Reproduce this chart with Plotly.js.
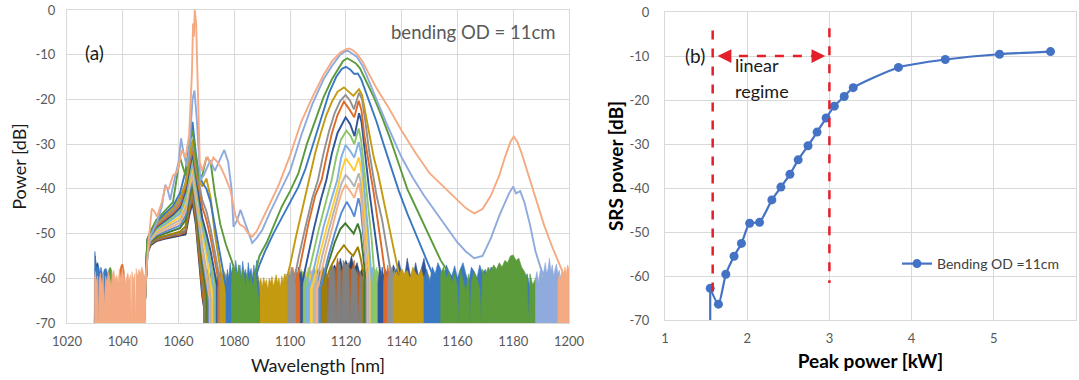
<!DOCTYPE html>
<html>
<head>
<meta charset="utf-8">
<script src="https://cdn.plot.ly/plotly-3.0.1.min.js"></script>
<style>html,body{margin:0;padding:0;background:#fff;}#chart{width:1079px;height:380px;}</style>
</head>
<body>
<div id="chart"></div>
<script>
// ---------------- (a) spectra ----------------
const WL_TICKS = [1020, 1040, 1060, 1080, 1100, 1120, 1140, 1160, 1180, 1200];
const WL_TICK_TEXT = ['1020', '1040', '1060', '1080', '1100', '1120', '1140', '1160', '1180', '1200'];
const DB_TICKS = [0, -10, -20, -30, -40, -50, -60, -70];
const DB_TICK_TEXT = ['0', '-10', '-20', '-30', '-40', '-50', '-60', '-70'];

// shared wavelength points of the pump / pedestal part
const PED_X = [1047.6, 1048.8, 1050, 1052, 1055, 1058, 1060.5, 1062.5, 1063.8, 1065, 1066.2, 1067.3, 1068.5, 1070, 1071.5, 1073, 1075, 1077, 1079, 1081];

const PED_S1 = [-70,-54.5,-52.6,-51.7,-51.2,-50.8,-50.6,-50.2,-46,-43,-48,-55,-64,-70,null,null,null,null,null,null];
const PED_S2 = [-70,-54.2,-52.4,-51.5,-51,-50.5,-50.3,-49.6,-45,-42,-47,-54,-63,-70,null,null,null,null,null,null];
const PED_S3 = [-70,-54,-52.2,-51.3,-50.8,-50.3,-50,-49.2,-44,-41,-46,-53,-61,-70,null,null,null,null,null,null];
const PED_S4 = [-70,-53.8,-52,-51,-50.5,-50,-49.6,-48.4,-43,-40,-45,-52,-59,-66,-70,null,null,null,null,null];
const PED_S5 = [-70,-53.5,-51.8,-50.7,-50,-49.4,-48.8,-47,-42,-39,-44,-50,-57,-63,-70,null,null,null,null,null];
const PED_S6 = [-70,-53.3,-51.6,-50.4,-49.6,-48.8,-48.2,-46,-41,-38,-43,-48.5,-55,-61,-68,-70,null,null,null,null];
const PED_S7 = [-70,-53.2,-51.4,-50.1,-49.2,-48.3,-47.6,-45,-40,-37,-42,-47.5,-54,-60,-66,-70,null,null,null,null];
const PED_S8 = [-70,-53,-51.2,-49.8,-48.8,-47.8,-47,-44.2,-39,-36,-41,-46.5,-52.5,-58,-64,-70,null,null,null,null];
const PED_S9 = [-70,-52.8,-51,-49.5,-48.4,-47.3,-46.3,-43.2,-39,-35,-40,-45,-50,-55,-61,-68,-70,null,null,null];
const PED_S10 = [-70,-52.6,-50.8,-49.2,-48,-46.8,-45.6,-42.3,-38,-34,-39,-44,-48.5,-53,-58,-64,-70,null,null,null];
const PED_S11 = [-70,-52.4,-50.6,-48.9,-47.6,-46.3,-44.9,-41.5,-37,-33,-38,-43,-47.5,-51.5,-56,-61,-68,-70,null,null];
const PED_S12 = [-70,-52.2,-50.4,-48.6,-47.2,-45.8,-44.2,-40.5,-36,-32,-37,-42,-46.5,-50,-54,-59,-66,-70,null,null];
const PED_S13 = [-70,-52,-50.2,-48.3,-46.8,-45.3,-43.5,-39.5,-35,-31,-36,-40,-44,-47,-51,-56,-63,-70,null,null];
const PED_S14 = [-70,-51.8,-50,-48,-46.4,-44.8,-42.8,-38.5,-34,-30,-35,-39,-42.5,-45,-49,-54,-61,-68,-70,null];
const PED_S15 = [-70,-51.6,-49.8,-47.7,-46,-44.3,-42,-39,-33,-29,-34,-38,-39.5,-37.7,-42,-50,-58,-65,-70,null];
const PED_S16 = [-70,-51.4,-49.6,-47.4,-45.6,-43.8,-41,-36,-31,-25,-32,-37,-38.5,-40,-43,-48,-55,-62,-70,null];
const PED_S17 = [-70,-51.2,-49.4,-47,-45,-43,-33,-37,-30,-27,-33,-38,-37,-33,-34,-41,-48,-52.5,-56,-60];

// Raman humps
const RAM_X_S4 = [1112, 1114.5, 1117, 1119.3, 1121, 1122.6, 1124.3, 1125.3, 1126.3, 1127];
const RAM_Y_S4 = [-62, -57.5, -54.5, -52.6, -54, -55, -53, -55.5, -59, -62];
const RAM_X_S5 = [1111, 1113.5, 1116, 1118, 1119.8, 1121.5, 1122.8, 1124.3, 1125.3, 1126.2, 1127.2];
const RAM_Y_S5 = [-62, -57, -52, -49, -47.7, -49, -50, -47.8, -50, -55, -61];
const RAM_X_S6 = [1111, 1113.5, 1116, 1118.3, 1120.3, 1121.8, 1123, 1124.5, 1125.3, 1126.1, 1127, 1127.8];
const RAM_Y_S6 = [-62, -55.5, -50, -45.5, -42.9, -44.5, -46.2, -42.1, -44, -49, -55, -61];
const RAM_X_S7 = [1110, 1112.5, 1115, 1117.2, 1118.7, 1119.9, 1121.5, 1123, 1124.6, 1125.3, 1126, 1126.8, 1127.8];
const RAM_Y_S7 = [-62, -55, -49, -43.5, -40.5, -39.1, -40.5, -42, -38.7, -41, -46, -53, -61];
const RAM_X_S8 = [1109, 1111.5, 1114, 1116.5, 1118.3, 1119.9, 1121.5, 1123, 1124.6, 1125.3, 1126, 1126.8, 1127.6, 1128.5];
const RAM_Y_S8 = [-62, -55, -49, -43, -39, -36.9, -38, -39.5, -36.5, -38.5, -42, -48, -54, -61];
const RAM_X_S9 = [1108, 1110.5, 1113, 1115.5, 1117.2, 1118.4, 1119.9, 1121.5, 1123, 1124.6, 1125.3, 1126, 1126.8, 1127.6, 1128.8];
const RAM_Y_S9 = [-62, -55, -49, -43.5, -39.5, -36, -33.2, -34.5, -36, -33, -35, -39, -45, -52, -61];
const RAM_X_S10 = [1107, 1109.5, 1112, 1114.5, 1116.9, 1118.3, 1119.9, 1121.5, 1123, 1124.6, 1125.4, 1126.1, 1127, 1128, 1129.3];
const RAM_Y_S10 = [-62, -55, -48.5, -43, -38, -33, -30.2, -31.5, -33, -29.5, -32, -36, -42, -50, -61];
const RAM_X_S11 = [1105.5, 1108, 1110.5, 1113, 1114.9, 1116.5, 1118.2, 1120.2, 1121.8, 1123, 1124.6, 1125.4, 1126.2, 1127, 1128, 1129.2, 1130.3];
const RAM_Y_S11 = [-62, -55, -48.5, -42.5, -38, -33, -29, -27, -28.3, -30, -26.5, -29, -33, -38, -44, -51, -60];
const RAM_X_S12 = [1104, 1106, 1108.5, 1111, 1113, 1115, 1117, 1119.9, 1121.5, 1123.1, 1124.7, 1125.6, 1126.5, 1127.4, 1128.5, 1130, 1131.5, 1132.8];
const RAM_Y_S12 = [-62, -56, -49, -42.5, -38, -32, -27.5, -24, -25.5, -28.2, -23.1, -25, -30, -35.8, -41, -48, -55, -61];
const RAM_X_S13 = [1102, 1104, 1106.5, 1109, 1111.3, 1113, 1115, 1117, 1119.3, 1121, 1123, 1124.6, 1125.6, 1126.6, 1127.6, 1128.6, 1130, 1131.5, 1133, 1134.5];
const RAM_Y_S13 = [-62, -55.5, -48, -41.5, -38, -33, -27.5, -23.5, -20.5, -22, -24, -20.3, -22.5, -28, -32.5, -35.8, -41, -47, -54, -61];
const RAM_X_S14 = [1101, 1103, 1105.5, 1108, 1110, 1112, 1114, 1116, 1118, 1119.9, 1121.5, 1122.9, 1124.7, 1125.8, 1127, 1128.2, 1129.5, 1131, 1133, 1135, 1136.5];
const RAM_Y_S14 = [-62, -55.5, -48.5, -42, -38, -32, -27, -23, -20.3, -19, -20.3, -22.2, -18.5, -20, -25, -31, -36, -41.5, -47, -54, -60];
const RAM_X_S15 = [1098, 1100, 1102, 1104.5, 1107, 1109, 1111, 1113, 1115, 1117, 1119.3, 1120.8, 1122.7, 1124.7, 1125.8, 1127, 1128.5, 1130, 1131.5, 1133, 1135, 1137, 1139];
const RAM_Y_S15 = [-62, -57, -51, -44, -37, -32, -27.5, -23.5, -20.5, -18.3, -17.3, -18.2, -19.2, -17.7, -19, -23, -28, -33, -36.5, -41, -47, -53, -59];
const RAM_X_S16 = [1087, 1089, 1091, 1094, 1097, 1100, 1103, 1105.5, 1108, 1111, 1114, 1116.5, 1118.5, 1120, 1121.5, 1123, 1124.3, 1125.5, 1127, 1129, 1131, 1133.5, 1136.4, 1139, 1142, 1145, 1148, 1151];
const RAM_Y_S16 = [-61, -57, -54, -50, -46.5, -43, -39.5, -35.5, -30.5, -24.5, -18.5, -15, -13.2, -12.7, -13.3, -14.3, -14.2, -15.5, -18, -21.5, -25, -30, -35.8, -40.5, -45.5, -50, -54.5, -59];
const RAM_X_S17 = [1087, 1089, 1091.6, 1094, 1097, 1100, 1103, 1106, 1109, 1112, 1115, 1117.5, 1119, 1120.5, 1122, 1123.5, 1125, 1127, 1130, 1133, 1136, 1139, 1142, 1145, 1148, 1151, 1154, 1156];
const RAM_Y_S17 = [-60, -55, -52, -48.5, -44, -40.5, -36.5, -30, -24.5, -19.5, -15.5, -12.8, -11.4, -10.8, -11.3, -11.9, -13, -15.5, -19.5, -24, -29, -34.5, -40, -44, -48, -52, -56, -58];

// two highest spectra, full traces
const WL_S18 = [1047.6, 1048.4, 1049.8, 1051, 1052.5, 1054, 1055.2, 1056, 1057, 1058.5, 1060, 1060.9, 1061.8, 1063, 1064, 1065, 1065.7, 1066.5, 1067.3, 1067.8, 1069, 1070.5, 1071.4, 1073, 1074.5, 1076.4, 1077.8, 1079, 1079.7, 1081, 1082.2, 1083.5, 1085, 1086.4, 1088, 1090, 1093, 1096, 1100, 1104, 1108, 1112, 1115, 1118, 1120, 1121, 1122.5, 1124, 1126, 1128, 1131, 1135, 1140, 1144, 1148, 1152, 1156, 1160, 1163, 1166, 1169, 1172, 1175, 1177, 1178.5, 1180, 1181, 1182.5, 1184, 1186, 1188, 1190, 1192, 1194];
const P_S18 = [-70, -58, -50.7, -49, -47, -44, -39.1, -40, -42.5, -38, -34, -28.7, -32, -35, -30, -20, -18, -24, -34, -38, -37, -35, -33.6, -36, -34, -31.3, -34, -40, -48.5, -47, -44.7, -47, -50, -52.1, -51, -49.2, -45, -41, -36, -28, -21, -15.5, -12.5, -10, -9.1, -9.2, -9.8, -10.5, -12.5, -15.5, -20, -26, -33, -37.5, -41.5, -45, -48.5, -52, -54, -55.5, -55, -51, -46, -43, -41, -39.5, -41, -40.5, -43, -48, -54, -58, -61, -64];
const WL_S19 = [1047.6, 1048.3, 1049.2, 1050.4, 1051.3, 1052.3, 1054, 1055.3, 1056.5, 1058, 1059.5, 1061.2, 1062.5, 1063.8, 1064.8, 1065.2, 1065.5, 1065.8, 1066.3, 1066.9, 1067.6, 1068.5, 1069.5, 1070.4, 1071.5, 1072.5, 1073.8, 1075, 1076.5, 1078.6, 1080.4, 1082, 1083.5, 1085, 1086.4, 1088, 1090, 1093, 1096, 1100, 1104, 1108, 1112, 1115, 1118, 1120, 1121.2, 1122.5, 1124, 1126, 1128, 1131, 1135, 1140, 1145, 1150, 1155, 1160, 1163, 1166, 1169, 1172, 1175, 1177, 1179, 1180.2, 1181.5, 1183, 1185, 1188, 1191, 1194, 1196, 1198, 1200];
const P_S19 = [-70, -60, -52, -44.4, -45, -46.2, -43, -39.5, -40, -37, -36.2, -31.3, -33, -28, -14, -3, -6, 0, -3, -20, -34, -36, -34, -32.8, -34.5, -33, -33.9, -35, -37, -40.3, -46, -48, -48.5, -50, -50.7, -49.5, -47, -43, -39, -32.5, -25, -19.5, -14.5, -11.5, -9.5, -8.8, -8.6, -9, -9.8, -11.5, -14, -17.5, -21.5, -27, -32, -36.5, -39.5, -42.5, -44.3, -45.5, -44.5, -41.5, -37, -33, -29.5, -28.3, -29.5, -32, -36, -42, -48, -53, -56, -59, -61];

// noise-floor segments (top edge of the dense noise), null separates segments
const NZX_S1 = [1029.8,1030.1,1030.5,1031,1031.5,1032,null,1069,1069.5,1070,1070.5,1071,null,1114,1115,1116,1117,1118,1119,1120,1121,1122,1123,1124,1125,1126,1127];
const NZY_S1 = [-70,-55,-57,-56.5,-58,-70,null,-62,-59.5,-61,-58,-62,null,-60,-58,-57,-59,-55.5,-58,-56,-57.5,-55,-58,-56.5,-59,-57.5,-61];
const NZX_S2 = [1069,1069.5,1070,1070.5,1071,1071.5,null,1112,1113,1114,1115,1115.5,1116,1117,1118,1119,1120,1120.5,1121,1122,1123,1123.5,1124,1125,1126,1127];
const NZY_S2 = [-62,-60,-58.5,-60.5,-59,-62,null,-61,-59,-60,-58.5,-70,-59.5,-55.5,-58.8,-57.5,-58.5,-70,-57.5,-58.2,-56,-70,-58,-60,-59.5,-62];
const NZX_S3 = [1069,1069.5,1070,1070.5,1071,1071.5,1072,null,1110,1111,1112,1113,1113.5,1114,1115,1116,1116.5,1117,1118,1118.5,1119,1120,1121,1121.5,1122,1123,1124,1124.5,1125,1126,1127];
const NZY_S3 = [-62,-59.5,-61,-58.5,-60.5,-59.5,-62,null,-60,-58.5,-59.5,-57.8,-70,-58.5,-57,-58,-70,-56.5,-57,-70,-56,-57,-56.5,-70,-58,-57.5,-59,-70,-58.5,-60,-62];
const NZX_S4 = [1069.5,1070,1070.5,1071,1071.5,1072,1072.5,null,1109,1109.5,1110,1110.5,1111,1111.5,1112,1112.5,1113,null,1126,1126.5,1127,1127.5,1128,1128.5];
const NZY_S4 = [-62,-60,-58.5,-60,-59,-61,-63,null,-61,-58.5,-60,-57.5,-59,-58,-57.5,-59.5,-61,null,-61,-58,-59.5,-57.5,-59,-62];
const NZX_S5 = [1070,1070.5,1071,1071.5,1072,1072.5,1073,null,1108,1108.5,1109,1109.5,1110,1110.5,1111,null,1126.5,1127,1127.5,1128,1128.5,1129];
const NZY_S5 = [-62,-59.5,-61,-58.5,-60.5,-59,-62,null,-61,-58,-59.5,-57.5,-59,-58.5,-61,null,-61,-58.5,-60,-57.8,-59.5,-62];
const NZX_S6 = [1070.5,1071,1071.5,1072,1072.5,1073,1073.5,null,1107,1107.5,1108,1108.5,1109,1109.5,1110,1110.5,1111,null,1127,1127.5,1128,1128.5,1129,1129.5];
const NZY_S6 = [-62,-59,-61,-58.2,-60,-59.5,-62,null,-61,-58.5,-60,-57.5,-59.5,-58,-60,-59,-62,null,-61,-58,-59.5,-57,-59,-62];
const NZX_S7 = [1071,1071.5,1072,1072.5,1073,1073.5,1074,null,1106,1106.5,1107,1107.5,1108,1108.5,1109,1109.5,1110,null,1127.5,1128,1128.5,1129,1129.5,1130];
const NZY_S7 = [-62,-60,-58.5,-60,-59,-61,-63,null,-61,-59,-57.5,-59.5,-58,-59.8,-60,-58.5,-62,null,-61,-58.5,-60,-58,-59.5,-62];
const NZX_S8 = [1071.5,1072,1072.5,1073,1073.5,1074,1074.5,null,1105,1105.5,1106,1106.5,1107,1107.5,1108,1108.5,1109,null,1128,1128.5,1129,1129.5,1130,1130.5];
const NZY_S8 = [-62,-59.5,-61,-58.5,-60.5,-59,-62,null,-61,-58,-59.5,-57.5,-59,-58.2,-60,-58.8,-62,null,-61,-58,-59.5,-57.5,-59,-62];
const NZX_S9 = [1072,1072.5,1073,1073.5,1074,1074.5,1075,null,1104,1104.5,1105,1105.5,1106,1106.5,1107,1107.5,1108,null,1128.5,1129,1129.5,1130,1130.5,1131];
const NZY_S9 = [-62,-60,-58.5,-60.5,-59,-61,-63,null,-61,-58.5,-60,-58,-59.5,-57.8,-60,-59,-62,null,-61,-58.5,-60,-57.8,-59.5,-62];
const NZX_S10 = [1072.5,1073,1073.5,1074,1074.5,1075,1075.5,null,1103,1103.5,1104,1104.5,1105,1105.5,1106,1106.5,1107,null,1129,1129.5,1130,1130.5,1131,1131.5,1132];
const NZY_S10 = [-62,-59,-61,-58.5,-60,-59,-62,null,-61,-59,-58,-60,-58.5,-59.5,-60,-58.5,-62,null,-60,-57.5,-59,-58,-60,-58.5,-61];
const NZX_S11 = [1073,1073.5,1074,1074.5,1075,1075.5,1076,null,1102,1102.5,1103,1103.5,1104,1104.5,1105,1105.5,null,1129.5,1130,1130.5,1131,1131.5,1132,1132.5,1133];
const NZY_S11 = [-62,-59.5,-61,-58.5,-60,-59,-62,null,-61,-59,-60.5,-58,-59.5,-58.5,-60,-62,null,-61,-58,-59.5,-57.5,-59,-58,-60,-62];
const NZX_S12 = [1073.5,1074,1074.5,1075,1075.5,1076,1076.5,null,1101,1101.5,1102,1102.5,1103,1103.5,1104,1104.5,null,1131.5,1132,1132.5,1133,1133.5,1134,1135,1136,1137,1138,1139,1140,1141,1142,1143,1144,1145,1146,1147,1148,1149,1150];
const NZY_S12 = [-62,-59,-61,-58,-60,-59.5,-62,null,-62,-59.5,-58,-60,-57.5,-59,-58.5,-61,null,-61,-58.5,-60,-57.5,-59.5,-58,-59,-60,-57,-58.5,-56,-59,-60,-55.5,-59,-60,-56.5,-59.5,-58,-55.5,-59,-62];
const NZX_S13 = [1038.5,1039,1039.5,1040,1040.5,1041,null,1074,1074.5,1075,1075.5,1076,1076.5,1077,null,1100,1100.5,1101,1101.5,1102,1102.5,1103,1103.5,null,1133.5,1134,1134.5,1135,1135.5,1136,1136.5,1137];
const NZY_S13 = [-70,-58,-57,-56.8,-58.5,-70,null,-62,-60,-58.5,-60.5,-59,-61,-63,null,-62,-59,-57.5,-59.5,-58,-60,-58.5,-61,null,-61,-58,-59.5,-57,-58.8,-57.5,-59,-62];
const NZX_S14 = [1074.5,1075,1075.5,1076,1076.5,1077,1077.5,null,1098,1098.5,1099,1099.5,1100,1100.5,1101,1101.5,1102,null,1135,1135.5,1136,1136.5,1137,1137.5,1138];
const NZY_S14 = [-62,-59.5,-61,-58.5,-60,-59,-62,null,-61,-59,-60.5,-58,-59.5,-57.5,-59,-60,-62,null,-61,-58.5,-60,-57.5,-59,-58,-61];
const NZX_S15 = [1075,1075.5,1076,1076.5,1077,1077.5,1078,1078.5,1079,null,1087,1087.5,1088,1088.5,1089,1089.5,1090,1090.5,1091,1091.5,1092,1092.5,1093,1093.5,1094,1094.5,1095,1095.5,1096,1096.5,1097,1097.5,1098,1098.5,1099,null,1137,1138,1139,1140,1141,1142,1143,1144,1145,1146,1147,1148,1149,1150,1151,1152];
const NZY_S15 = [-62,-59,-61,-58.5,-60,-59,-61.5,-59.5,-62,null,-62,-60,-61.5,-59.5,-61,-60,-62,-59.8,-61.2,-60.3,-62.5,-60,-61,-59.6,-61.8,-60.5,-59.2,-61,-60,-62,-59.5,-60.8,-59,-60.5,-62,null,-60,-58.5,-59.5,-57.8,-59,-58.2,-60,-57.5,-58.8,-59.5,-58,-60.2,-58.5,-59.8,-61,-63];
const NZX_S16 = [1029.8,1030,1030.3,1030.7,1031.2,1031.7,1032.2,1032.8,1033.4,1034,1034.6,1035.2,1035.8,1036.3,null,1077,1077.5,1078,1078.5,1079,1079.5,1080,1080.5,1081,1081.5,1082,1082.5,1083,1083.5,1084,1084.5,1085,1085.5,1086,1086.5,1087,1087.5,1088,1088.5,1089,null,1148,1149,1150,1151,1152,1153,1154,1155,1156,1157,1158,1159,1160,1161,1162,1163,1164,1165,1166,1167,1168,1169,1170,1171,1172,1173,1174,1175,1176,1177,1178,1179,1180,1181,1182,1183,1184,1185,1186];
const NZY_S16 = [-70,-54,-56.5,-58,-57,-59,-57.5,-59.5,-58,-57.8,-59,-58.2,-59.6,-70,null,-62,-58,-60,-56.5,-59,-57.5,-60,-56,-58.5,-59.5,-57,-60,-56.2,-59,-58,-60.5,-56.5,-59,-57.8,-60,-57,-59.5,-56,-60,-63,null,-60,-58,-61,-57.5,-59,-56.5,-58,-60,-57,-58.5,-59.5,-57.2,-60,-58,-56.5,-59,-61,-57.5,-58.5,-60,-57,-59,-58,-60.5,-57.5,-58,-59,-57.5,-58.5,-57,-58,-59.5,-58,-60,-57.5,-59,-60.5,-59,-62];
const NZX_S17 = [1034.5,1035,1035.5,1036,1036.5,null,1079,1079.5,1080,1080.5,1081,1081.5,1082,1082.5,1083,1083.5,1084,1084.5,1085,1085.5,1086,1086.5,1087,1087.5,1088,1088.5,1089,null,1154,1155,1156,1157,1158,1159,1160,1160.5,1161,1162,1163,1164,1164.5,1165,1166,1167,1168,1168.5,1169,1170,1171,1172,1173,1174,1175,1176,1177,1178,1179,1180,1181,1182,1183,1184,1185,1185.5,1186,1187,1188,1189,1190,1191];
const NZY_S17 = [-70,-58,-57.5,-58.2,-70,null,-60,-57.5,-59,-58,-60.5,-57,-58.5,-61,-58,-59.5,-62,-58.8,-60,-61.5,-59,-62,-60.5,-58.5,-61,-63,-66,null,-59,-57.5,-60,-58.5,-61,-59,-62,-70,-58,-60.5,-63,-59,-70,-61,-58.5,-60,-62.5,-70,-58,-59.5,-57.5,-58.5,-57,-58,-56.5,-57.5,-56,-56.5,-55,-54.8,-56,-55.5,-57.5,-58.5,-60,-70,-59,-61.5,-60,-62,-61,-64];
const NZX_S18 = [1188,1188.5,1189,1189.5,1190,1190.5,1191,1191.5,1192,1192.5,1193,1193.5,1194,1194.5,1195,1195.5,1196,1196.5,1197,1197.5,1198];
const NZY_S18 = [-60,-58.5,-61,-59,-57.5,-60,-58,-56.5,-59,-57.8,-55.5,-58.5,-57,-59.5,-58,-56.8,-59,-58.2,-60,-59,-61];
const NZX_S19 = [1029.8,1030.2,1030.6,1031,1031.2,1031.5,1032,1032.5,1033,1033.4,1033.8,1034.3,1034.8,1035.3,1035.8,1036.3,1036.8,1037.3,1037.8,1038.3,1038.8,1039.3,1039.8,1040.3,1040.8,1041.3,1041.8,1042.3,1042.8,1043,1043.3,1043.8,1044.3,1044.6,1044.8,1045.3,1045.8,1046.3,1046.8,1047.3,1047.8,1048.2,null,1196,1196.5,1197,1197.5,1198,1198.5,1199,1199.5,1200];
const NZY_S19 = [-60,-58.5,-61,-59.5,-70,-60.5,-58.8,-61.5,-59,-66,-59.5,-60.8,-58.5,-60,-61.5,-59,-58.2,-60.5,-59.3,-61,-58,-60.2,-57.6,-59.5,-61,-60,-58.8,-60.6,-59.2,-70,-58.5,-60.5,-59,-70,-57.8,-59.6,-58,-59,-57.5,-58.5,-60,-58.5,null,-61,-59,-60.5,-58,-59.5,-57.5,-58.8,-57,-58];

const COLORS = ['#264478','#C55A11','#808080','#A27D00','#3F7A2F','#5A8AD2','#F4B183','#B4B4B4','#FFCC33','#7FB2E0','#8CC66A','#2F559A','#DD6A28','#919191','#C49A10','#3A78C2','#5B9B3C','#8FAADC','#F4AA82'];

// ---------------- (b) SRS power ----------------
const PEAK_KW = [1.55, 1.65, 1.74, 1.84, 1.93, 2.03, 2.15, 2.30, 2.41, 2.52, 2.62, 2.74, 2.85, 2.96, 3.06, 3.18, 3.29, 3.84, 4.41, 5.07, 5.69];
const SRS_DB = [-62.8, -66.4, -59.6, -55.5, -52.6, -48.0, -47.8, -42.7, -39.8, -36.9, -33.6, -30.4, -27.3, -24.1, -21.4, -19.2, -17.2, -12.6, -10.8, -9.6, -9.0];
const SRS_FIRST_LOW = -80;   // first measurement lies below the axis
const KW_TICKS = [1, 2, 3, 4, 5, 6];
const LINEAR_START_KW = 1.58, LINEAR_END_KW = 3.0;

// ---------------- build traces ----------------
const spectra = [
  {ped: PED_S1, nx: NZX_S1, ny: NZY_S1},
  {ped: PED_S2, nx: NZX_S2, ny: NZY_S2},
  {ped: PED_S3, nx: NZX_S3, ny: NZY_S3},
  {ped: PED_S4, rx: RAM_X_S4, ry: RAM_Y_S4, nx: NZX_S4, ny: NZY_S4},
  {ped: PED_S5, rx: RAM_X_S5, ry: RAM_Y_S5, nx: NZX_S5, ny: NZY_S5},
  {ped: PED_S6, rx: RAM_X_S6, ry: RAM_Y_S6, nx: NZX_S6, ny: NZY_S6},
  {ped: PED_S7, rx: RAM_X_S7, ry: RAM_Y_S7, nx: NZX_S7, ny: NZY_S7},
  {ped: PED_S8, rx: RAM_X_S8, ry: RAM_Y_S8, nx: NZX_S8, ny: NZY_S8},
  {ped: PED_S9, rx: RAM_X_S9, ry: RAM_Y_S9, nx: NZX_S9, ny: NZY_S9},
  {ped: PED_S10, rx: RAM_X_S10, ry: RAM_Y_S10, nx: NZX_S10, ny: NZY_S10},
  {ped: PED_S11, rx: RAM_X_S11, ry: RAM_Y_S11, nx: NZX_S11, ny: NZY_S11},
  {ped: PED_S12, rx: RAM_X_S12, ry: RAM_Y_S12, nx: NZX_S12, ny: NZY_S12},
  {ped: PED_S13, rx: RAM_X_S13, ry: RAM_Y_S13, nx: NZX_S13, ny: NZY_S13},
  {ped: PED_S14, rx: RAM_X_S14, ry: RAM_Y_S14, nx: NZX_S14, ny: NZY_S14},
  {ped: PED_S15, rx: RAM_X_S15, ry: RAM_Y_S15, nx: NZX_S15, ny: NZY_S15},
  {ped: PED_S16, rx: RAM_X_S16, ry: RAM_Y_S16, nx: NZX_S16, ny: NZY_S16},
  {ped: PED_S17, rx: RAM_X_S17, ry: RAM_Y_S17, nx: NZX_S17, ny: NZY_S17},
  {fx: WL_S18, fy: P_S18, nx: NZX_S18, ny: NZY_S18},
  {fx: WL_S19, fy: P_S19, nx: NZX_S19, ny: NZY_S19}
];

const FLOOR = -71;
function noisePolygon(xs, ys) {
  const px = [], py = [];
  let seg = [];
  const flush = () => {
    if (!seg.length) return;
    if (px.length) { px.push(null); py.push(null); }
    px.push(seg[0][0]); py.push(FLOOR);
    seg.forEach(p => { px.push(p[0]); py.push(p[1]); });
    px.push(seg[seg.length - 1][0]); py.push(FLOOR);
    seg = [];
  };
  xs.forEach((x, i) => { if (x === null) flush(); else seg.push([x, ys[i]]); });
  flush();
  return {px, py};
}

const traces = [];
spectra.forEach((s, i) => {
  const c = COLORS[i];
  const poly = noisePolygon(s.nx, s.ny);
  traces.push({x: poly.px, y: poly.py, xaxis: 'x', yaxis: 'y', type: 'scatter', mode: 'lines',
    fill: 'toself', fillcolor: c, line: {color: c, width: 0.6}, showlegend: false, hoverinfo: 'skip'});
  let lx, ly;
  if (s.fx) { lx = s.fx; ly = s.fy; }
  else {
    lx = PED_X.slice(); ly = s.ped.slice();
    if (s.rx) { lx = lx.concat([null], s.rx); ly = ly.concat([null], s.ry); }
  }
  traces.push({x: lx, y: ly, xaxis: 'x', yaxis: 'y', type: 'scatter', mode: 'lines',
    connectgaps: false, line: {color: c, width: 1.9}, showlegend: false, hoverinfo: 'skip'});
});

const BLUE = '#4472C4';
traces.push({x: [PEAK_KW[0], PEAK_KW[0]], y: [SRS_FIRST_LOW, SRS_DB[0]], xaxis: 'x2', yaxis: 'y2',
  type: 'scatter', mode: 'lines', line: {color: BLUE, width: 2.2}, showlegend: false, hoverinfo: 'skip'});
traces.push({x: PEAK_KW, y: SRS_DB, xaxis: 'x2', yaxis: 'y2', type: 'scatter', mode: 'lines+markers',
  name: 'Bending OD =11cm', line: {color: BLUE, width: 2.2, shape: 'spline', smoothing: 0.6},
  marker: {color: BLUE, size: 9}, showlegend: true});

const FONT = 'Lato, "Open Sans", "DejaVu Sans", sans-serif';
const tickFont = {family: FONT, size: 13, color: '#595959'};
const GRID = '#D9D9D9';
const W = 1079, H = 380;

const baseAxis = {showgrid: true, gridcolor: GRID, gridwidth: 1, zeroline: false, showline: true,
  linecolor: GRID, linewidth: 1, mirror: true, ticks: '', tickfont: tickFont, fixedrange: true, automargin: false};

const RED = '#E3202A';
const layout = {
  width: W, height: H, margin: {l: 0, r: 0, t: 0, b: 0},
  paper_bgcolor: '#fff', plot_bgcolor: '#fff', font: {family: FONT},
  showlegend: true,
  legend: {x: 897 / W, y: (H - 264) / H, xanchor: 'left', yanchor: 'middle', bgcolor: 'rgba(0,0,0,0)',
    font: {family: FONT, size: 14, color: '#404040'}},
  xaxis: Object.assign({}, baseAxis, {domain: [67 / W, 569 / W], range: [1020, 1200], anchor: 'y',
    tickvals: WL_TICKS, ticktext: WL_TICK_TEXT, ticklabelstandoff: 6,
    title: {text: 'Wavelength [nm]', font: {family: FONT, size: 18, color: '#1a1a1a'}, standoff: 11}}),
  yaxis: Object.assign({}, baseAxis, {domain: [57 / H, 370 / H], range: [-70, 0], anchor: 'x',
    tickvals: DB_TICKS, ticktext: DB_TICK_TEXT, ticklabelstandoff: 8,
    title: {text: 'Power [dB]', font: {family: FONT, size: 18, color: '#1a1a1a'}, standoff: 4}}),
  xaxis2: Object.assign({}, baseAxis, {domain: [665 / W, 1076 / W], range: [1, 6], anchor: 'y2',
    tickvals: KW_TICKS, ticklabelstandoff: 6,
    title: {text: 'Peak power [kW]', font: {family: FONT, size: 19, color: '#000', weight: 'bold'}, standoff: 10}}),
  yaxis2: Object.assign({}, baseAxis, {domain: [60 / H, 368 / H], range: [-70, 0], anchor: 'x2',
    tickvals: DB_TICKS, ticktext: DB_TICK_TEXT, ticklabelstandoff: 12,
    title: {text: 'SRS power [dB]', font: {family: FONT, size: 19, color: '#000', weight: 'bold'}, standoff: 0}}),
  shapes: [
    {type: 'line', xref: 'x2', yref: 'y2', x0: LINEAR_START_KW, x1: LINEAR_START_KW, y0: -4.2, y1: -65.5,
      line: {color: RED, width: 2.5, dash: 'dash'}},
    {type: 'line', xref: 'x2', yref: 'y2', x0: LINEAR_END_KW, x1: LINEAR_END_KW, y0: -3.7, y1: -61.6,
      line: {color: RED, width: 2.5, dash: 'dash'}},
    {type: 'line', xref: 'x2', yref: 'y2', x0: 1.68, x1: 2.9, y0: -10, y1: -10,
      line: {color: RED, width: 2.5, dash: 'dash'}}
  ],
  annotations: [
    {xref: 'x', yref: 'y', x: 1030, y: -9.4, text: '(a)', showarrow: false,
      font: {family: FONT, size: 19, color: '#1a1a1a'}},
    {xref: 'x', yref: 'y', x: 1196, y: -4.9, xanchor: 'right', text: 'bending OD = 11cm', showarrow: false,
      font: {family: FONT, size: 18.5, color: '#595959'}},
    {xref: 'x2', yref: 'y2', x: 1.37, y: -9.8, text: '(b)', showarrow: false,
      font: {family: FONT, size: 19, color: '#1a1a1a'}},
    {xref: 'x2', yref: 'y2', x: 1.83, y: -12.1, xanchor: 'left', text: 'linear', showarrow: false,
      font: {family: FONT, size: 18, color: '#1a1a1a'}},
    {xref: 'x2', yref: 'y2', x: 1.83, y: -17.9, xanchor: 'left', text: 'regime', showarrow: false,
      font: {family: FONT, size: 18, color: '#1a1a1a'}},
    {xref: 'x2', yref: 'y2', axref: 'x2', ayref: 'y2', x: 1.64, y: -10, ax: 1.72, ay: -10, text: '',
      showarrow: true, arrowhead: 2, arrowsize: 1.1, arrowwidth: 2.5, arrowcolor: RED},
    {xref: 'x2', yref: 'y2', axref: 'x2', ayref: 'y2', x: 2.95, y: -10, ax: 2.87, ay: -10, text: '',
      showarrow: true, arrowhead: 2, arrowsize: 1.1, arrowwidth: 2.5, arrowcolor: RED}
  ]
};

Plotly.newPlot('chart', traces, layout, {staticPlot: true, displayModeBar: false});
</script>
</body>
</html>
